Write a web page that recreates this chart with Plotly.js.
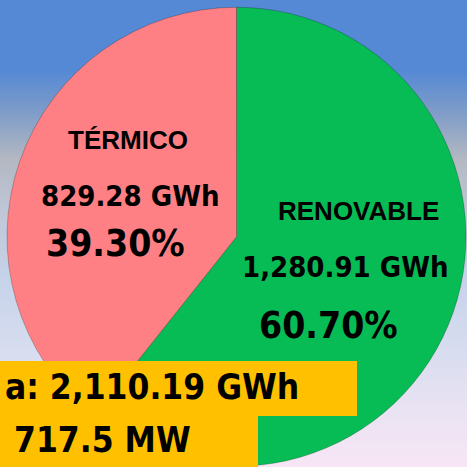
<!DOCTYPE html>
<html>
<head>
<meta charset="utf-8">
<script src="https://cdn.plot.ly/plotly-3.0.1.min.js"></script>
<style>
html,body{margin:0;padding:0;width:467px;height:467px;overflow:hidden;}
#bg{position:absolute;left:0;top:0;width:467px;height:467px;
background:linear-gradient(to bottom,#5589D5 0%,#5589D5 15%,#7E9CC8 24%,#B3B8C2 34%,#BFC6D6 45%,#C6D3EA 60%,#D6DCEF 74%,#EAE3F3 88%,#F7E6F5 100%);}
#chart{position:absolute;left:0;top:0;width:467px;height:467px;}
</style>
</head>
<body>
<div id="bg"></div>
<div id="chart"></div>
<script>
const categories = ["RENOVABLE", "TÉRMICO"];
const energyGWh = [1280.91, 829.28];
const percentLabels = ["60.70%", "39.30%"];
const energyLabels = ["1,280.91 GWh", "829.28 GWh"];
const sliceColors = ["#07BC55", "#FF8084"];
const totalLabel = "a: 2,110.19 GWh";
const powerLabel = "717.5 MW";

const W = 467, H = 467;
const px = x => x / W;
const py = y => 1 - y / H;

const numFont = {family: "DejaVu Sans Condensed, DejaVu Sans", color: "#000", weight: 700};
const nameFont = {family: "Liberation Sans, Arial", color: "#000", size: 26, weight: 700};

const trace = {
  type: "pie",
  labels: categories,
  values: energyGWh,
  sort: false,
  direction: "clockwise",
  rotation: 0,
  textinfo: "none",
  hoverinfo: "none",
  marker: {colors: sliceColors, line: {color: "rgba(0,0,0,0.22)", width: 1}},
  domain: {x: [7 / W, 466 / W], y: [0.5 / H, 460 / H]},
  showlegend: false
};

const ann = [];
function txt(x, y, text, font, xanchor) {
  ann.push({xref: "paper", yref: "paper", x: px(x), y: py(y), text: text,
    showarrow: false, xanchor: xanchor || "center", yanchor: "middle", font: font});
}
// TÉRMICO
txt(127.5, 140, categories[1], nameFont);
txt(130, 196, energyLabels[1], Object.assign({}, numFont, {size: 29}));
txt(115, 244, percentLabels[1], Object.assign({}, numFont, {size: 37}));
// RENOVABLE
txt(358.5, 211, categories[0], nameFont);
txt(345.5, 267, energyLabels[0], Object.assign({}, numFont, {size: 29}));
txt(328, 325, percentLabels[0], Object.assign({}, numFont, {size: 37}));
// totals
txt(301, 387, totalLabel, Object.assign({}, numFont, {size: 35}), "right");
txt(193, 440, powerLabel, Object.assign({}, numFont, {size: 35}), "right");

const shapes = [
  {type: "rect", xref: "paper", yref: "paper", x0: px(-5), x1: px(357), y0: py(361), y1: py(416),
   fillcolor: "#FFC000", line: {width: 0}, layer: "above"},
  {type: "rect", xref: "paper", yref: "paper", x0: px(-5), x1: px(258), y0: py(416), y1: py(472),
   fillcolor: "#FFC000", line: {width: 0}, layer: "above"}
];

Plotly.newPlot("chart", [trace], {
  width: W, height: H,
  margin: {l: 0, r: 0, t: 0, b: 0},
  paper_bgcolor: "rgba(0,0,0,0)",
  plot_bgcolor: "rgba(0,0,0,0)",
  annotations: ann,
  shapes: shapes
}, {staticPlot: true});
</script>
</body>
</html>
